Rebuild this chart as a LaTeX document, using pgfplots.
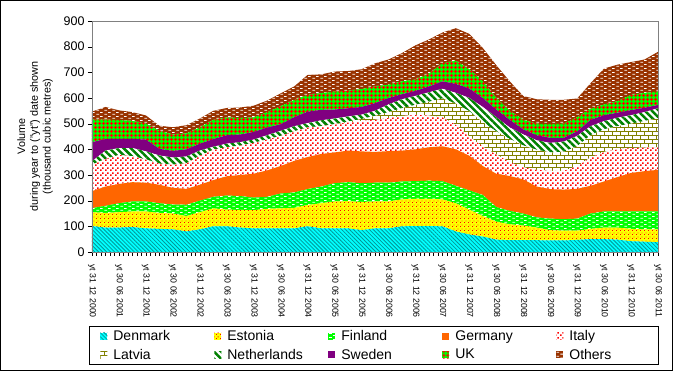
\documentclass[border=0pt]{standalone}
\usepackage{fontspec}
\setmainfont{Liberation Sans}
\usepackage{pgfplots}
\usepackage{pgfplotstable}
\pgfplotsset{compat=1.18}
\usetikzlibrary{patterns,patterns.meta}

\definecolor{cDen}{RGB}{0,255,255}
\definecolor{cDenL}{RGB}{0,150,150}
\definecolor{cYel}{RGB}{255,255,0}
\definecolor{cRed}{RGB}{255,0,0}
\definecolor{cGrn}{RGB}{0,255,0}
\definecolor{cOra}{RGB}{255,102,0}
\definecolor{cOli}{RGB}{128,128,0}
\definecolor{cDkG}{RGB}{0,128,0}
\definecolor{cPur}{RGB}{128,0,128}
\definecolor{cBro}{RGB}{153,51,0}

\pgfdeclarepatternformonly{smallbricks}{\pgfqpoint{0pt}{0pt}}{\pgfqpoint{8pt}{4pt}}{\pgfqpoint{8pt}{4pt}}{%
  \pgfsetlinewidth{1pt}%
  \pgfpathmoveto{\pgfqpoint{0.5pt}{1pt}}\pgfpathlineto{\pgfqpoint{3.5pt}{1pt}}%
  \pgfpathmoveto{\pgfqpoint{4.5pt}{3pt}}\pgfpathlineto{\pgfqpoint{7.5pt}{3pt}}%
  \pgfusepath{stroke}}
\pgfdeclarepatternformonly{brickoutline}{\pgfqpoint{-0.5pt}{-0.5pt}}{\pgfqpoint{8.5pt}{8.5pt}}{\pgfqpoint{8pt}{8pt}}{%
  \pgfsetlinewidth{0.9pt}%
  \pgfpathmoveto{\pgfqpoint{0pt}{0pt}}\pgfpathlineto{\pgfqpoint{8pt}{0pt}}%
  \pgfpathmoveto{\pgfqpoint{0pt}{4pt}}\pgfpathlineto{\pgfqpoint{8pt}{4pt}}%
  \pgfpathmoveto{\pgfqpoint{0pt}{0pt}}\pgfpathlineto{\pgfqpoint{0pt}{4pt}}%
  \pgfpathmoveto{\pgfqpoint{4pt}{4pt}}\pgfpathlineto{\pgfqpoint{4pt}{8pt}}%
  \pgfusepath{stroke}}
\pgfdeclarepatternformonly{bigdots}{\pgfqpoint{0pt}{0pt}}{\pgfqpoint{5pt}{5pt}}{\pgfqpoint{5pt}{5pt}}{%
  \pgfpathrectangle{\pgfqpoint{0pt}{0pt}}{\pgfqpoint{1.8pt}{1.8pt}}%
  \pgfpathrectangle{\pgfqpoint{2.5pt}{2.5pt}}{\pgfqpoint{1.8pt}{1.8pt}}%
  \pgfusepath{fill}}
\pgfdeclarepatternformonly{tinydots}{\pgfqpoint{0pt}{0pt}}{\pgfqpoint{4pt}{4pt}}{\pgfqpoint{4pt}{4pt}}{%
  \pgfpathrectangle{\pgfqpoint{0pt}{0pt}}{\pgfqpoint{1pt}{1pt}}%
  \pgfpathrectangle{\pgfqpoint{2pt}{2pt}}{\pgfqpoint{1pt}{1pt}}%
  \pgfusepath{fill}}

\pgfplotstableread{
m   Den Est Fin Ger Ita Lat Net Swe UK  Oth
0   101 54  16  66  103 0   13  75  89  30
3   95  57  28  75  107 0   33  45  76  49
6   95  60  35  75  113 0   27  36  73  38
9   97  61  39  75  101 0   32  36  70  34
12  92  66  39  73  90  0   32  46  62  32
15  90  62  38  72  82  0   32  26  70  20
18  88  62  35  65  90  0   28  26  64  28
21  80  60  44  62  99  0   27  28  62  32
24  88  67  45  62  113 0   20  27  63  35
27  100 70  45  65  118 0   12  30  75  35
30  100 65  55  75  113 0   14  33  69  37
33  95  69  54  82  114 0   14  30  64  41
36  92  71  49  93  120 0   13  30  56  46
39  92  76  47  103 120 0   17  30  60  45
42  92  78  58  107 117 0   20  26  70  50
45  92  80  60  123 115 0   20  35  67  53
48  100 83  62  125 115 0   17  45  65  78
51  92  98  65  127 108 0   23  41  65  73
54  92  105 71  120 109 1   22  35  70  78
57  92  106 74  123 110 3   20  32  68  77
60  85  110 73  124 118 8   17  30  70  77
63  92  105 73  120 125 15  20  30  65  90
66  92  105 73  123 129 23  30  25  52  98
69  100 105 70  120 135 30  35  20  50  110
72  101 106 69  124 134 39  35  20  44  133
75  101 106 71  130 124 53  37  23  50  133
78  100 105 71  136 113 73  38  29  70  120
81  80  110 68  142 95  83  42  35  90  127
84  68  97  75  135 75  98  52  37  75  138
87  60  80  82  113 75  95  60  35  65  130
90  48  70  57  130 75  90  55  30  45  128
93  46  62  52  136 54  90  45  30  35  115
96  46  57  47  133 47  85  43  20  37  93
99  46  49  40  120 65  78  37  20  45  95
102 45  40  45  115 71  72  37  20  53  95
105 45  38  45  115 73  74  40  15  55  93
108 47  36  47  116 89  77  40  18  55  73
111 50  40  60  108 110 87  35  25  43  100
114 50  45  63  117 115 88  32  23  42  140
117 48  47  63  134 108 90  33  20  45  142
120 42  48  68  150 97  95  33  20  59  128
123 40  48  70  157 92  103 35  17  58  130
126 38  50  70  162 88  113 39  13  52  155
}\datatable

\newcommand{\LE}[1]{\addlegendentry{\makebox[99pt][l]{#1}}}
\newcommand{\LL}[1]{\addlegendentry{\makebox[76pt][l]{#1}}}

\begin{document}
\begin{tikzpicture}
\begin{axis}[
  scale only axis,
  width=566pt, height=231pt,
  at={(0pt,0pt)}, anchor=south west,
  xmin=0, xmax=126, ymin=0, ymax=900,
  stack plots=y,
  area style,
  axis on top,
  axis line style={draw=gray},
  tick style={black},
  tick align=outside,
  xtick pos=bottom, ytick pos=left,
  major tick length=4pt, minor tick length=4pt,
  xtick={0,6,...,126},
  minor x tick num=5,
  xticklabels={yt 31 12 2000,yt 30 06 2001,yt 31 12 2001,yt 30 06 2002,yt 31 12 2002,yt 30 06 2003,yt 31 12 2003,yt 30 06 2004,yt 31 12 2004,yt 30 06 2005,yt 31 12 2005,yt 30 06 2006,yt 31 12 2006,yt 30 06 2007,yt 31 12 2007,yt 30 06 2008,yt 31 12 2008,yt 30 06 2009,yt 31 12 2009,yt 30 06 2010,yt 31 12 2010,yt 30 06 2011},
  xticklabel shift=5pt,
  xticklabel style={rotate=-90, anchor=west, font=\fontsize{8.8}{10}\selectfont},
  ytick={0,100,...,900},
  yticklabel style={font=\fontsize{12.5}{14}\selectfont},
  /pgf/number format/assume math mode=true,
  every axis y label/.style={at={(axis description cs:-0.1007,0.5)}, rotate=90, anchor=center, align=center, font=\fontsize{10.8}{12.8}\selectfont},
  ylabel={Volume\\during year to ("yt") date shown\\(thousand cubic metres)},
  legend image code/.code={\path[#1] (0pt,-3.5pt) rectangle (7pt,3.5pt);},
  legend columns=5,
  legend cell align=left,
  legend style={at={(axis description cs:0.498,-0.32)}, anchor=north, draw=black, line width=0.8pt,
    inner xsep=11pt, inner ysep=2pt, row sep=3pt,
    font=\fontsize{14}{16}\selectfont,
    /tikz/every odd column/.append style={column sep=4pt}},
]
\addplot[draw=none, fill=cDen, postaction={pattern={Lines[angle=-45,distance=2.8pt,line width=0.8pt]}, pattern color=cDenL}] table[x=m,y=Den]{\datatable} \closedcycle;
\LE{Denmark}
\addplot[draw=none, fill=cYel, postaction={pattern=tinydots, pattern color=cRed}] table[x=m,y=Est]{\datatable} \closedcycle;
\LE{Estonia}
\addplot[draw=none, fill=cGrn, postaction={pattern=smallbricks, pattern color=white}] table[x=m,y=Fin]{\datatable} \closedcycle;
\LE{Finland}
\addplot[draw=none, fill=cOra] table[x=m,y=Ger]{\datatable} \closedcycle;
\LE{Germany}
\addplot[draw=none, fill=white, postaction={pattern=bigdots, pattern color=cRed}] table[x=m,y=Ita]{\datatable} \closedcycle;
\LL{Italy}
\addplot[draw=none, fill=white, postaction={pattern=brickoutline, pattern color=cOli}] table[x=m,y=Lat]{\datatable} \closedcycle;
\LE{Latvia}
\addplot[draw=none, fill=white, postaction={pattern={Lines[angle=-45,distance=5pt,line width=2.5pt]}, pattern color=cDkG}] table[x=m,y=Net]{\datatable} \closedcycle;
\LE{Netherlands}
\addplot[draw=none, fill=cPur] table[x=m,y=Swe]{\datatable} \closedcycle;
\LE{Sweden}
\addplot[draw=none, fill=cGrn, postaction={pattern={Hatch[angle=0,distance=4pt,line width=1pt]}, pattern color=cRed}] table[x=m,y=UK]{\datatable} \closedcycle;
\LE{UK}
\addplot[draw=none, fill=cBro, postaction={pattern=smallbricks, pattern color=white}] table[x=m,y=Oth]{\datatable} \closedcycle;
\LL{Others}
\draw[black, line width=0.8pt] (rel axis cs:0,1) -- (rel axis cs:0,0) -- (rel axis cs:1,0);
\end{axis}
\draw[black, line width=0.8pt] (-91.6pt,-118.6pt) rectangle (580.6pt,251.6pt);
\end{tikzpicture}
\end{document}
